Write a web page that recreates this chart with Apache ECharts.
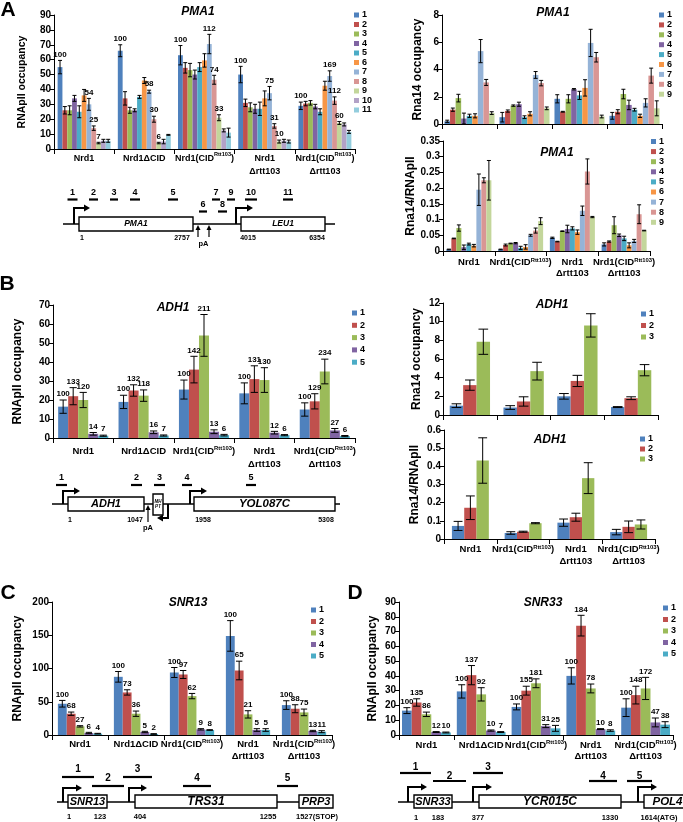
<!DOCTYPE html>
<html><head><meta charset="utf-8">
<script src="https://cdn.jsdelivr.net/npm/echarts@6/dist/echarts.min.js"></script>
<style>html,body{margin:0;padding:0;background:#fff;}#chart{width:683px;height:822px;}</style>
</head><body><div id="chart"></div>
<script>
// ---------------- DATA ----------------
const groups5 = ['Nrd1','Nrd1ΔCID','Nrd1(CID^Rtt103)','Nrd1\nΔrtt103','Nrd1(CID^Rtt103)\nΔrtt103'];
const groups4 = ['Nrd1','Nrd1(CID^Rtt103)','Nrd1\nΔrtt103','Nrd1(CID^Rtt103)\nΔrtt103'];
const probes11 = ['1','2','3','4','5','6','7','8','9','10','11'];
const probes9 = ['1','2','3','4','5','6','7','8','9'];
const probes5 = ['1','2','3','4','5'];
const probes3 = ['1','2','3'];

// PMA1 RNApII occupancy (rows = strains, cols = probes 1..11)
const pma1PolMean = [
  [55,26,26,34,25,36,30,14,4,5.5,5.5],
  [66,34,26,26,35,46,38.5,20,4,5,9.5],
  [63,54.5,53,50,55,59.5,70.5,46.5,21,12.5,11],
  [50,31,28,27,27,34,37.5,15.5,5,5.5,5],
  [29,30.5,31,28.5,25,42.5,49,32.5,17.5,16.5,11.5]
];
const pma1PolErr = [
  [4.5,2.5,3,2,4,4,4,1.5,0.5,1,1],
  [4,4.5,2,1,1,2,1,2,0.5,1.5,0.3],
  [6.5,3.5,4.5,3,3,4.5,6.5,3,2,1,3],
  [5.5,2.5,3,3,4.5,5,4.5,1.5,1,1,1],
  [2.5,1.5,1.5,1.5,2,3,3.5,2.5,1,1,1]
];
const pma1PolLabels = [
  ['100','','','','','','54','25','7','',''],
  ['100','','','','','','58','30','6','',''],
  ['100','','','','','','112','74','33','',''],
  ['100','','','','','','75','31','10','',''],
  ['100','','','','','','169','112','60','','']
];
// PMA1 Rna14 occupancy (probes 1..9)
const pma1Rna14Mean = [
  [0.2,1.05,1.9,0.4,0.6,0.6,5.35,3.05,0.8],
  [0.5,0.95,1.35,1.45,0.5,0.75,3.6,3.0,1.15],
  [1.85,0.9,1.85,2.55,2.1,2.65,5.95,4.9,0.55],
  [0.6,0.9,2.2,1.4,1.05,0.6,1.55,3.55,1.15]
];
const pma1Rna14Err = [
  [0.08,0.12,0.28,0.4,0.12,0.15,0.85,0.22,0.1],
  [0.35,0.08,0.05,0.15,0.1,0.15,0.25,0.2,0.1],
  [0.3,0.03,0.3,0.05,0.3,0.6,1.0,0.35,0.1],
  [0.25,0.15,0.35,0.35,0.1,0.12,0.3,0.55,0.55]
];
// PMA1 Rna14/RNApII
const pma1RatioMean = [
  [0.005,0.04,0.073,0.012,0.022,0.017,0.195,0.225,0.225],
  [0.005,0.019,0.024,0.025,0.01,0.013,0.05,0.065,0.095],
  [0.042,0.03,0.063,0.07,0.072,0.06,0.128,0.253,0.108],
  [0.021,0.03,0.082,0.05,0.04,0.018,0.032,0.117,0.065]
];
const pma1RatioErr = [
  [0.001,0.001,0.01,0.007,0.003,0.004,0.05,0.008,0.063],
  [0.001,0.003,0.001,0.002,0.005,0.007,0.003,0.008,0.011],
  [0.002,0.001,0.001,0.012,0.005,0.007,0.015,0.04,0.002],
  [0.005,0.002,0.027,0.004,0.007,0.008,0.005,0.03,0.001]
];
// ADH1
const adh1PolMean = [[16.5,22,20,2.2,1.2],[19,25,22.3,3,1.3],[25.5,36,54,3.3,1.5],[23.5,31,30.5,2.8,1.5],[15,19.3,35,4,1]];
const adh1PolErr = [[3.5,4.5,4,0.7,0.3],[3.5,3,3,0.7,0.3],[5,7,11,1,0.4],[5.5,7,6.5,0.7,0.3],[3.5,4,6.5,1,0.3]];
const adh1PolLabels = [['100','133','120','14','7'],['100','132','118','16','7'],['100','142','211','13','6'],['100','131','130','12','6'],['100','129','234','27','6']];
const adh1Rna14Mean = [[1.0,3.2,7.85],[0.8,1.45,4.7],[2.0,3.65,9.6],[0.85,1.8,4.8]];
const adh1Rna14Err = [[0.2,0.55,1.35],[0.2,0.5,0.95],[0.3,0.6,1.25],[0.05,0.15,0.6]];
const adh1RatioMean = [[0.072,0.172,0.432],[0.033,0.04,0.087],[0.09,0.12,0.335],[0.038,0.067,0.08]];
const adh1RatioErr = [[0.025,0.065,0.125],[0.007,0.003,0.003],[0.02,0.022,0.085],[0.015,0.032,0.025]];
// SNR13
const snr13Mean = [[47,32,13,3,2],[87.5,64,32,4.5,1.5],[94,91,58.5,8.5,7.5],[149,97,31,7.5,7.5],[45,39.5,34,6,5]];
const snr13Err = [[5,2.5,1,1,0.5],[8,4,4,1,0.5],[7.5,6,4,1,0.5],[23,14,5.5,2,2],[6.5,6,5,1,1.5]];
const snr13Labels = [['100','68','27','6','4'],['100','73','36','5','2'],['100','97','62','9','8'],['100','65','21','5','5'],['100','88','75','13','11']];
// SNR33
const snr33Mean = [[16.5,22,14,2,1.7],[29.5,40.5,27.5,3,2],[19,30,35,6,4.5],[40,74,31.5,4,3],[18.5,27,31.5,8.5,7]];
const snr33Err = [[2,2.5,1.5,0.3,0.3],[4.5,6.5,4.5,0.4,0.3],[2,3,3,1,2],[5.5,7,3,0.3,0.5],[6,6,7.5,3,2]];
const snr33Labels = [['100','135','86','12','10'],['100','137','92','10','7'],['100','155','181','31','25'],['100','184','78','10','8'],['100','148','172','47','38']];

// Schematic text
const pma1Genes = ['PMA1','LEU1'];
const pma1Coords = ['1','2757','4015','6354'];
const adh1Genes = ['ADH1','MH\nPT','YOL087C'];
const adh1Coords = ['1','1047','1958','5308'];
const snr13Genes = ['SNR13','TRS31','PRP3'];
const snr13Coords = ['1','123','404','1255','1527(STOP)'];
const snr33Genes = ['SNR33','YCR015C','POL4'];
const snr33Coords = ['1','183','377','1330','1614(ATG)'];

// ---------------- STYLE / LAYOUT ----------------
const F = 'Liberation Sans, Arial, Helvetica, sans-serif';
const COLORS = ['#4F81BD','#C0504D','#9BBB59','#8064A2','#4BACC6','#F79646','#95B3D7','#D99694','#C3D69B','#B3A2C7','#93CDDD'];

const option = {animation:false, backgroundColor:'#fff', grid:[], xAxis:[], yAxis:[], series:[], legend:[], graphic:[]};

function catFmt(v){
  return v.split('\n').map(line=>{
    const i=line.indexOf('^');
    if(i<0) return '{n|'+line+'}';
    const m=line.slice(i+1).match(/^(\w+)(.*)$/);
    return '{n|'+line.slice(0,i)+'}{s|'+m[1]+'}{n|'+m[2]+'}';
  }).join('\n');
}
function catRich(lh, fs){
  return {
    n:{fontFamily:F,fontWeight:'bold',fontSize:fs,lineHeight:lh,color:'#000'},
    s:{fontFamily:F,fontWeight:'bold',fontSize:fs*0.62,lineHeight:7,color:'#000',verticalAlign:'top'}
  };
}
function errRender(n, gap, labels){
  return function(params, api){
    const cat=api.value(0), i=api.value(1), m=api.value(2), e=api.value(3);
    const band=api.size([1,0])[0];
    const total=band*(1-gap), bw=total/n;
    const cx=api.coord([cat,0])[0]-total/2+bw*(i+0.5);
    const yt=api.coord([cat,m+e])[1], yb=api.coord([cat,Math.max(m-e,0)])[1];
    const h=Math.max(bw*0.36,2);
    const st={stroke:'#000',lineWidth:1};
    const kids=[
      {type:'line',shape:{x1:cx,y1:yt,x2:cx,y2:yb},style:st},
      {type:'line',shape:{x1:cx-h,y1:yt,x2:cx+h,y2:yt},style:st},
      {type:'line',shape:{x1:cx-h,y1:yb,x2:cx+h,y2:yb},style:st}
    ];
    if(labels && labels[cat][i]){
      kids.push({type:'text',x:cx,y:yt-6,style:{text:labels[cat][i],fontFamily:F,fontWeight:'bold',fontSize:8,fill:'#000',align:'center',verticalAlign:'middle'}});
    }
    return {type:'group',children:kids};
  };
}
function addBarPanel(c){
  const gi=option.grid.length;
  option.grid.push({left:c.left,top:c.top,width:c.width,height:c.height,containLabel:false,outerBoundsMode:'none'});
  option.xAxis.push({gridIndex:gi,type:'category',data:c.cats,
    axisLine:{lineStyle:{color:'#000',width:1}},
    axisTick:{show:true,length:5,lineStyle:{color:'#000'}},
    axisLabel:{show:c.showX,interval:0,margin:c.xMargin||4,color:'#000',formatter:catFmt,rich:catRich(c.xLH||12,c.xFont||9.5)},
    splitLine:{show:false}});
  option.yAxis.push({gridIndex:gi,type:'value',min:0,max:c.max,interval:c.step,
    name:c.yName,nameLocation:'middle',nameGap:c.nameGap,
    nameTextStyle:{fontFamily:F,fontWeight:'bold',fontSize:c.nameSize||12,color:'#000'},
    axisLine:{show:true,lineStyle:{color:'#000',width:1}},
    axisTick:{show:true,length:4,lineStyle:{color:'#000'}},
    axisLabel:{fontFamily:F,fontWeight:'bold',fontSize:10,color:'#000',margin:3},
    splitLine:{show:false}});
  const n=c.mean[0].length;
  for(let i=0;i<n;i++){
    option.series.push({type:'bar',name:c.probes[i],xAxisIndex:gi,yAxisIndex:gi,
      data:c.mean.map(g=>g[i]),itemStyle:{color:COLORS[i]},
      barGap:'0%',barCategoryGap:c.gap+'%',silent:true});
  }
  const ed=[];
  c.mean.forEach((g,k)=>g.forEach((m,i)=>ed.push([k,i,m,c.err[k][i]])));
  option.series.push({type:'custom',xAxisIndex:gi,yAxisIndex:gi,data:ed,z:10,clip:false,silent:true,
    encode:{x:0,y:2},renderItem:errRender(n,c.gap/100,c.labels)});
  option.legend.push({left:c.legend[0],top:c.legend[1],orient:'vertical',itemGap:c.legend[2],
    itemWidth:5,itemHeight:5,icon:'rect',padding:0,selectedMode:false,data:c.probes,
    textStyle:{fontFamily:F,fontWeight:'bold',fontSize:9,color:'#000',padding:[0,0,0,-2]}});
}

addBarPanel({cats:groups5,mean:pma1PolMean,err:pma1PolErr,labels:pma1PolLabels,probes:probes11,
  left:54,top:15,width:301,height:134,max:90,step:10,yName:'RNApII occupancy',nameSize:10.5,nameGap:26,
  gap:12,showX:true,xMargin:2.5,xLH:13.5,xFont:9,legend:[354,10.5,0.5]});
addBarPanel({cats:groups4,mean:pma1Rna14Mean,err:pma1Rna14Err,labels:null,probes:probes9,
  left:442,top:15,width:220,height:109,max:8,step:2,yName:'Rna14 occupancy',nameGap:18,
  gap:9,showX:false,legend:[659,10.5,0.9]});
addBarPanel({cats:groups4,mean:pma1RatioMean,err:pma1RatioErr,labels:null,probes:probes9,
  left:443,top:141,width:207,height:110,max:0.35,step:0.05,yName:'Rna14/RNApII',nameGap:22,
  gap:13,showX:true,xMargin:6,xLH:11,legend:[651,137,1.1]});
addBarPanel({cats:groups5,mean:adh1PolMean,err:adh1PolErr,labels:adh1PolLabels,probes:probes5,
  left:53,top:305,width:302,height:133,max:70,step:10,yName:'RNApII occupancy',nameGap:29,
  gap:17,showX:true,xMargin:7,xLH:13,legend:[352,308.5,3.3]});
addBarPanel({cats:groups4,mean:adh1Rna14Mean,err:adh1Rna14Err,labels:null,probes:probes3,
  left:443,top:303,width:215,height:112,max:12,step:2,yName:'Rna14 occupancy',nameGap:20,
  gap:25,showX:false,legend:[641,309.5,2.5]});
addBarPanel({cats:groups4,mean:adh1RatioMean,err:adh1RatioErr,labels:null,probes:probes3,
  left:444,top:430,width:211,height:109,max:0.6,step:0.1,yName:'Rna14/RNApII',nameGap:23,
  gap:30,showX:true,xMargin:5,xLH:11.5,legend:[640,434.5,1]});
addBarPanel({cats:groups5,mean:snr13Mean,err:snr13Err,labels:snr13Labels,probes:probes5,
  left:52,top:602,width:280,height:133,max:200,step:50,yName:'RNApII occupancy',nameGap:28,
  gap:21,showX:true,xMargin:3,xLH:12,legend:[311,605.5,2.5]});
addBarPanel({cats:groups5,mean:snr33Mean,err:snr33Err,labels:snr33Labels,probes:probes5,
  left:399,top:602,width:274,height:133,max:90,step:10,yName:'RNApII occupancy',nameGap:20,
  gap:11,showX:true,xMargin:4.5,xLH:11,legend:[663,603.5,2.5]});

// ---------------- SCHEMATICS (local schematic units inside own hidden grids) ----------------
function diagRender(d){
  return function(params, api){
    const P=(x,y)=>api.coord([x,y]);
    const k=[], B='#000';
    const txt=(x,y,t,font,extra)=>{const p=P(x,y);k.push({type:'text',x:p[0],y:p[1],z2:5,style:Object.assign({text:t,fontFamily:F,fontWeight:'bold',fontSize:font,fill:B,align:'center',verticalAlign:'middle'},extra||{})});};
    d.lines.forEach(l=>{const a=P(l[0],l[2]),b=P(l[1],l[2]);k.push({type:'line',shape:{x1:a[0],y1:a[1],x2:b[0],y2:b[1]},style:{stroke:B,lineWidth:1.5}});});
    d.prom.forEach(p=>{
      const [x,yb,yt,xe,dir]=p; const a=P(x,yb),b=P(x,yt),e=P(xe,yt); const hd=6*dir;
      k.push({type:'polyline',shape:{points:[a,b,[e[0]-hd,e[1]]]},style:{stroke:B,lineWidth:2,fill:null}});
      k.push({type:'polygon',shape:{points:[[e[0]-hd,e[1]-3.5],[e[0],e[1]],[e[0]-hd,e[1]+3.5]]},style:{fill:B}});
    });
    d.boxes.forEach(g=>{
      const p=P(g[0],g[2]),q=P(g[1],g[3]);
      k.push({type:'rect',shape:{x:p[0],y:p[1],width:q[0]-p[0],height:q[1]-p[1]},style:{fill:'#fff',stroke:B,lineWidth:1.4}});
      txt((g[0]+g[1])/2,(g[2]+g[3])/2,g[4],g[5],{fontStyle:'italic',lineHeight:g[5]+1});
    });
    d.probes.forEach(p=>{
      const [x0,x1,y,t,ly,fs]=p; const a=P(x0,y),b=P(x1,y);
      k.push({type:'line',shape:{x1:a[0],y1:a[1],x2:b[0],y2:b[1]},style:{stroke:B,lineWidth:2.2}});
      txt((x0+x1)/2,ly,t,fs);
    });
    (d.pA||[]).forEach(p=>{
      const [x,y0,y1]=p; const a=P(x,y0),b=P(x,y1);
      k.push({type:'line',shape:{x1:a[0],y1:a[1],x2:b[0],y2:b[1]+4},style:{stroke:B,lineWidth:1.2}});
      k.push({type:'polygon',shape:{points:[[b[0]-2.5,b[1]+5],[b[0],b[1]],[b[0]+2.5,b[1]+5]]},style:{fill:B}});
    });
    d.nums.forEach(n=>txt(n[0],n[1],n[2],n[3]));
    return {type:'group',children:k};
  };
}
function addDiagram(d){
  const gi=option.grid.length;
  option.grid.push({left:d.left,top:d.top,width:d.width,height:d.height,containLabel:false,outerBoundsMode:'none'});
  option.xAxis.push({gridIndex:gi,type:'value',min:0,max:d.width,show:false});
  option.yAxis.push({gridIndex:gi,type:'value',min:0,max:d.height,inverse:true,show:false});
  option.series.push({type:'custom',xAxisIndex:gi,yAxisIndex:gi,data:[[0,0]],clip:false,silent:true,renderItem:diagRender(d)});
}
const pr = (c,w,y,t,ly,fs)=>[c-w/2,c+w/2,y,t,ly,fs];
addDiagram({left:55,top:185,width:290,height:65,
  lines:[[8,280,39]],
  prom:[[19,39,23,35,1],[181,39,23,198,1]],
  boxes:[[24,138,32,46,pma1Genes[0],8.5],[186,270,32,46,pma1Genes[1],8.5]],
  probes:[pr(17.5,10,14.5,probes11[0],8,9),pr(38.5,9,14.5,probes11[1],8,9),pr(59,8,14.5,probes11[2],8,9),pr(80,10,14.5,probes11[3],8,9),
          pr(118,10,14.5,probes11[4],8,9),pr(161,8,14.5,probes11[6],8,9),pr(176,8,14.5,probes11[8],8,9),pr(196,12,14.5,probes11[9],8,9),
          pr(233,10,14.5,probes11[10],8,9),pr(148,8,26.5,probes11[5],20,9),pr(167.5,9,26.5,probes11[7],20,9)],
  pA:[[143,52,40],[154,52,40]],
  nums:[[27,53,pma1Coords[0],7],[127,53,pma1Coords[1],7],[193,53,pma1Coords[2],7],[262,53,pma1Coords[3],7],[148.5,58.5,'pA',7.5]]});
addDiagram({left:50,top:470,width:292,height:65,
  lines:[[2,290,34]],
  prom:[[13,34,21,30,1],[140,34,21,157,1],[118,34,48,107,-1]],
  boxes:[[18,94,27,41,adh1Genes[0],11],[103,113,24,45,adh1Genes[1],4.5],[144,285,27,41,adh1Genes[2],11.5]],
  probes:[pr(11.5,11,15,probes5[0],8,9),pr(86.5,11,15,probes5[1],8,9),pr(109.5,11,15,probes5[2],8,9),pr(137,10,15,probes5[3],8,9),pr(201,10,15,probes5[4],8,9)],
  pA:[[98,52,35]],
  nums:[[20,50,adh1Coords[0],7],[85,50,adh1Coords[1],7],[153,50,adh1Coords[2],7],[276,50,adh1Coords[3],7],[98,58,'pA',7.5]]});
addDiagram({left:50,top:760,width:290,height:62,
  lines:[[7,283,42]],
  prom:[[13,42,28,32,1],[79,42,28,97,1]],
  boxes:[[18,57,35,48,snr13Genes[0],11],[85,227,35,48,snr13Genes[1],12],[249,283,35,48,snr13Genes[2],11]],
  probes:[pr(28,32,17,probes5[0],9,10),pr(58,32,26,probes5[1],18,10),pr(87.5,29,17,probes5[2],9,10),pr(147,28,26,probes5[3],18,10),pr(237.5,21,26,probes5[4],18,10)],
  nums:[[19,57,snr13Coords[0],7.5],[50,57,snr13Coords[1],7.5],[90,57,snr13Coords[2],7.5],[218,57,snr13Coords[3],7.5],[267,57,snr13Coords[4],7.5]]});
addDiagram({left:395,top:760,width:288,height:62,
  lines:[[3,288,42]],
  prom:[[13,42,27,32,1],[78,42,27,97,1],[243,42,27,262,1]],
  boxes:[[19,57,35,48,snr33Genes[0],11],[84,226,35,48,snr33Genes[1],12],[249,296,35,48,snr33Genes[2],11.5]],
  probes:[pr(20.5,31,13,probes5[0],7,10),pr(54.5,33,21,probes5[1],16,10),pr(93,30,13,probes5[2],7,10),pr(208,28,21,probes5[3],16,10),pr(244.5,25,21,probes5[4],16,10)],
  nums:[[21,58,snr33Coords[0],7.5],[43,58,snr33Coords[1],7.5],[83,58,snr33Coords[2],7.5],[215,58,snr33Coords[3],7.5],[264,58,snr33Coords[4],7.5]]});

// ---------------- TITLES & PANEL LETTERS ----------------
function gtext(x,y,t,size,italic){
  option.graphic.push({type:'text',x:x,y:y,silent:true,style:{text:t,fontFamily:F,fontWeight:'bold',fontStyle:italic?'italic':'normal',fontSize:size,fill:'#000',align:'center',verticalAlign:'middle',textAlign:'center',textVerticalAlign:'middle'}});
}
gtext(198,12,'PMA1',12,true); gtext(553,13,'PMA1',12,true); gtext(557,153,'PMA1',12,true);
gtext(173,308,'ADH1',12,true); gtext(552,305,'ADH1',12,true); gtext(550,440,'ADH1',12,true);
gtext(188,603,'SNR13',12,true); gtext(543,603,'SNR33',12,true);
gtext(8,10,'A',21,false); gtext(7,284,'B',21,false); gtext(8,593,'C',21,false); gtext(355,593,'D',21,false);

const chart = echarts.init(document.getElementById('chart'), null, {renderer:'canvas'});
chart.setOption(option);
</script></body></html>
